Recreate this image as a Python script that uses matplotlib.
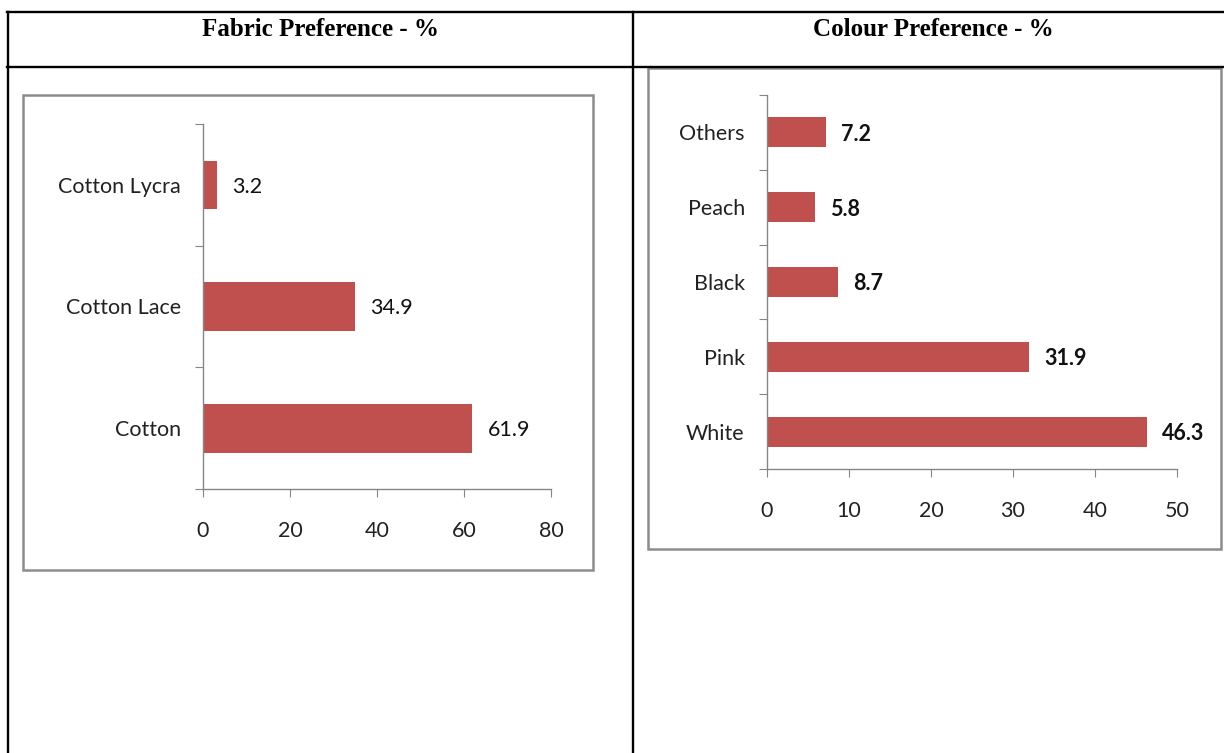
import matplotlib.pyplot as plt
from matplotlib.patches import Rectangle
from matplotlib.lines import Line2D

fabric_labels = ['Cotton', 'Cotton Lace', 'Cotton Lycra']
fabric_values = [61.9, 34.9, 3.2]
fabric_ticks = [0, 20, 40, 60, 80]

colour_labels = ['White', 'Pink', 'Black', 'Peach', 'Others']
colour_values = [46.3, 31.9, 8.7, 5.8, 7.2]
colour_ticks = [0, 10, 20, 30, 40, 50]

W, H = 1224, 753
bar_color = '#C0504D'
axis_gray = '#868686'
sans = ['Lato', 'DejaVu Sans']
serif = ['Liberation Serif', 'DejaVu Serif']
fs = 15.5

fig = plt.figure(figsize=(W / 100, H / 100), dpi=100)


def px_box(left, top, right, bottom):
    return [left / W, 1 - bottom / H, (right - left) / W, (bottom - top) / H]


def fig_line(x0, y0, x1, y1, **kw):
    fig.add_artist(Line2D([x0 / W, x1 / W], [1 - y0 / H, 1 - y1 / H],
                          transform=fig.transFigure, **kw))


# table grid
lw = 1.7
fig_line(7, 12, W, 12, color='black', lw=lw)
fig_line(7, 67, W, 67, color='black', lw=lw)
fig_line(8, 12, 8, H, color='black', lw=lw)
fig_line(633, 12, 633, H, color='black', lw=lw)

fig.text(320 / W, 1 - 29 / H, 'Fabric Preference - %', ha='center', va='center',
         family=serif, weight='bold', fontsize=18)
fig.text(933 / W, 1 - 29 / H, 'Colour Preference - %', ha='center', va='center',
         family=serif, weight='bold', fontsize=18)

# chart frames
for (l, t, r, b) in [(23, 95, 593, 570), (648, 68, 1221, 549)]:
    fig.add_artist(Rectangle((l / W, 1 - b / H), (r - l) / W, (b - t) / H,
                             transform=fig.transFigure, facecolor='white',
                             edgecolor='#8c8c8c', lw=1.8, zorder=0))


def bar_chart(box, labels, values, ticks, bold):
    ax = fig.add_axes(box)
    n = len(labels)
    pos = list(range(n))
    ax.barh(pos, values, height=0.4, color=bar_color, zorder=2)
    ax.set_xlim(ticks[0], ticks[-1])
    ax.set_ylim(-0.5, n - 0.5)
    ax.set_xticks(ticks)
    ax.set_xticklabels([str(t) for t in ticks], family=sans, fontsize=fs, color='#222222')
    ax.set_yticks([i - 0.5 for i in range(n + 1)])
    ax.set_yticklabels([])
    ax.set_yticks(pos, minor=True)
    ax.set_yticklabels(labels, minor=True, family=sans, fontsize=fs, color='#222222')
    ax.tick_params(axis='y', which='major', length=6, color=axis_gray, direction='out')
    ax.tick_params(axis='y', which='minor', length=0, pad=16)
    ax.tick_params(axis='x', length=6, color=axis_gray, direction='out', pad=17)
    for s in ['top', 'right']:
        ax.spines[s].set_visible(False)
    for s in ['left', 'bottom']:
        ax.spines[s].set_color(axis_gray)
        ax.spines[s].set_linewidth(1.0)
    for p, v in zip(pos, values):
        ax.annotate(f'{v}', (v, p), xytext=(11, 0), textcoords='offset points',
                    ha='left', va='center_baseline', family=sans, fontsize=fs,
                    weight='bold' if bold else 'normal', color='#111111')
    ax.patch.set_alpha(0)
    return ax


bar_chart(px_box(203, 124, 551, 489), fabric_labels, fabric_values, fabric_ticks, False)
bar_chart(px_box(767, 95, 1177, 469), colour_labels, colour_values, colour_ticks, True)

fig.savefig('out.png', dpi=100)
